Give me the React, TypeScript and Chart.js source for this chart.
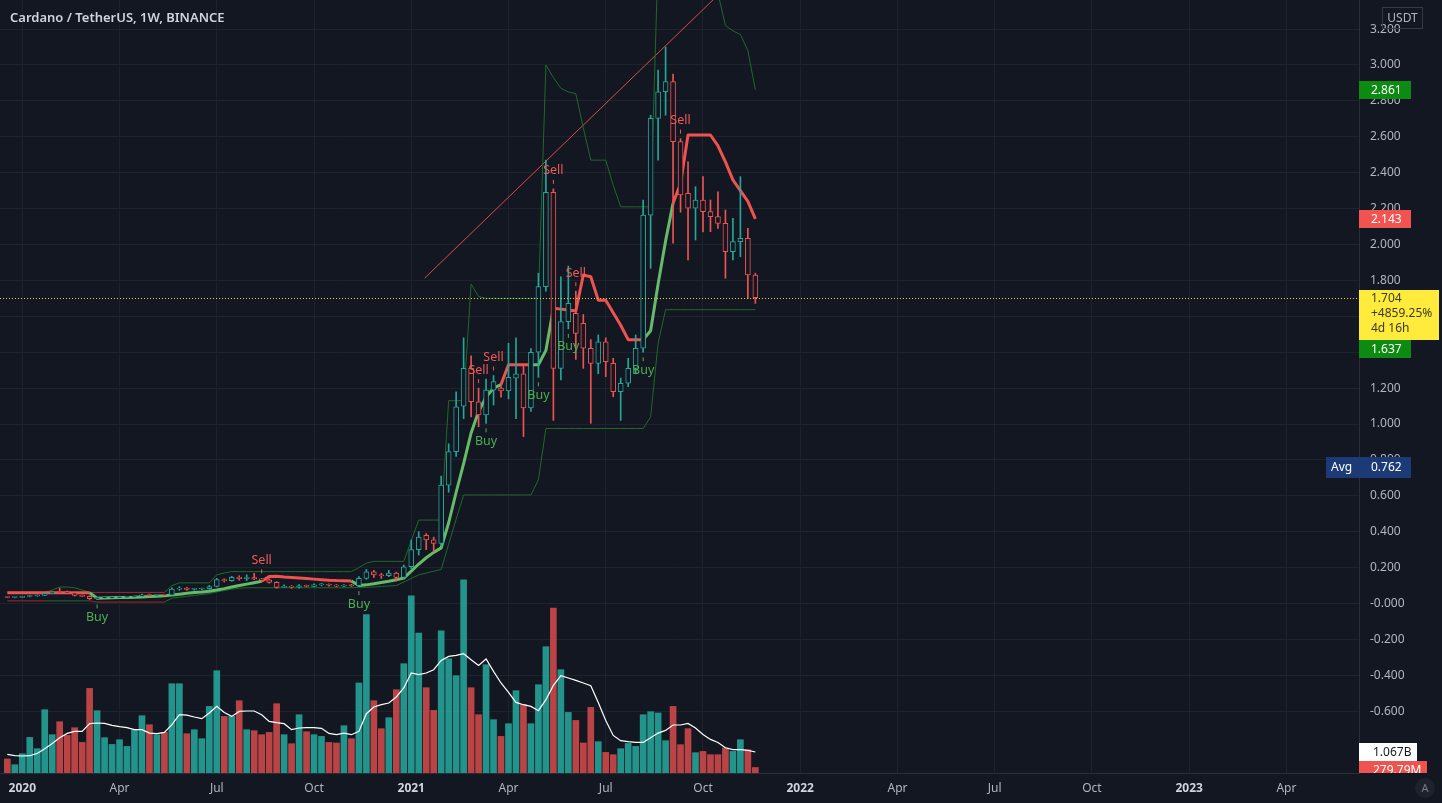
import React, { useEffect, useRef } from 'react';
import { Chart, registerables } from 'chart.js';

Chart.register(...registerables);

// ---------------- data ----------------
const TITLE = 'Cardano / TetherUS, 1W, BINANCE';
const CURRENCY = 'USDT';
// weekly bars, index = weeks after the bar of 2020-01-06
const FIRST_WEEK = -2;

const opens = [
  0.0345, 0.0335, 0.0345, 0.039, 0.042, 0.0455, 0.057, 0.0635, 0.0615, 0.06, 0.045, 0.04,
  0.027, 0.03, 0.0315, 0.033, 0.0345, 0.0365, 0.04, 0.049, 0.045, 0.047,
  0.046, 0.08, 0.086, 0.079, 0.081, 0.083, 0.095, 0.133, 0.128, 0.146,
  0.139, 0.145, 0.137, 0.132, 0.118, 0.09, 0.096, 0.091, 0.099, 0.096,
  0.104, 0.107, 0.102, 0.097, 0.103, 0.099, 0.14, 0.177, 0.16, 0.155,
  0.17, 0.145, 0.205, 0.3, 0.38, 0.355, 0.335, 0.66, 0.846, 1.1,
  1.31, 1.124, 1.05, 1.189, 1.2, 1.185, 1.255, 1.28, 1.09, 1.4,
  1.765, 2.29, 1.31, 1.57, 1.617, 1.561, 1.422, 1.338, 1.458, 1.338,
  1.18, 1.227, 1.31, 1.422, 2.164, 2.703, 2.851, 2.907, 2.573, 2.285,
  2.202, 2.248, 2.183, 2.155, 2.118, 1.96, 2.016, 2.035, 1.83,
];
const highs = [
  0.036, 0.0355, 0.041, 0.044, 0.048, 0.059, 0.066, 0.085, 0.07, 0.062, 0.047, 0.043,
  0.033, 0.034, 0.0345, 0.0365, 0.038, 0.042, 0.052, 0.053, 0.049, 0.052,
  0.088, 0.094, 0.09, 0.084, 0.086, 0.101, 0.14, 0.138, 0.152, 0.155,
  0.16, 0.168, 0.14, 0.136, 0.122, 0.104, 0.1, 0.105, 0.103, 0.11,
  0.112, 0.11, 0.106, 0.106, 0.107, 0.15, 0.19, 0.185, 0.168, 0.185,
  0.175, 0.215, 0.354, 0.4, 0.39, 0.37, 0.71, 0.89, 1.18, 1.48,
  1.38, 1.2, 1.25, 1.27, 1.22, 1.45, 1.48, 1.33, 1.42, 1.84,
  2.47, 2.31, 1.82, 1.88, 1.74, 1.61, 1.47, 1.496, 1.48, 1.366,
  1.256, 1.366, 1.496, 2.248, 2.72, 2.972, 3.1, 2.95, 2.59, 2.461,
  2.322, 2.378, 2.248, 2.294, 2.192, 2.146, 2.378, 2.09, 1.84,
];
const lows = [
  0.0325, 0.032, 0.033, 0.037, 0.04, 0.044, 0.055, 0.06, 0.058, 0.042, 0.038, 0.022,
  0.023, 0.028, 0.0295, 0.031, 0.033, 0.035, 0.039, 0.043, 0.041, 0.044,
  0.045, 0.074, 0.075, 0.074, 0.077, 0.08, 0.093, 0.12, 0.124, 0.13,
  0.128, 0.133, 0.124, 0.113, 0.085, 0.088, 0.085, 0.086, 0.093, 0.094,
  0.099, 0.097, 0.093, 0.094, 0.095, 0.097, 0.135, 0.145, 0.14, 0.15,
  0.125, 0.14, 0.19, 0.27, 0.3, 0.29, 0.32, 0.62, 0.82, 1.03,
  1.04, 0.985, 1.004, 1.106, 1.15, 1.14, 1.03, 0.93, 1.07, 1.26,
  1.74, 1.02, 1.245, 1.53, 1.36, 1.31, 1.004, 1.28, 1.264, 1.152,
  1.02, 1.208, 1.28, 1.4, 1.867, 2.47, 2.72, 2.007, 2.18, 1.914,
  2.025, 2.07, 2.071, 2.09, 1.812, 1.914, 1.932, 1.7, 1.672,
];
const closes = [
  0.0335, 0.0345, 0.039, 0.042, 0.0455, 0.057, 0.062, 0.0615, 0.06, 0.045, 0.04, 0.027,
  0.03, 0.0315, 0.033, 0.0345, 0.0365, 0.04, 0.049, 0.045, 0.047, 0.046,
  0.08, 0.086, 0.079, 0.081, 0.083, 0.095, 0.133, 0.128, 0.146, 0.139,
  0.145, 0.137, 0.132, 0.118, 0.09, 0.096, 0.091, 0.099, 0.096, 0.104,
  0.107, 0.102, 0.097, 0.103, 0.099, 0.14, 0.177, 0.16, 0.155, 0.17,
  0.145, 0.205, 0.3, 0.37, 0.355, 0.335, 0.66, 0.846, 1.096, 1.31,
  1.124, 1.05, 1.189, 1.236, 1.185, 1.26, 1.28, 1.09, 1.4, 1.765,
  2.29, 1.31, 1.57, 1.672, 1.505, 1.422, 1.338, 1.458, 1.347, 1.18,
  1.227, 1.31, 1.422, 2.164, 2.703, 2.851, 2.907, 2.573, 2.276, 2.202,
  2.248, 2.183, 2.155, 2.118, 1.96, 2.016, 2.035, 1.83, 1.704,
];
// volume in millions of ADA
const volumes = [
  711, 421, 980, 1807, 1234, 3213, 1944, 2604, 1909, 2299,
  1553, 4294, 3162, 1792, 1452, 1690, 1350, 2198, 2909, 2452,
  1944, 2061, 4533, 4533, 1995, 2198, 1741, 3381, 5193, 2873,
  2873, 3670, 2198, 2147, 1944, 2061, 3518, 1944, 1487, 2959,
  2096, 1944, 1858, 1553, 1523, 2401, 1741, 4569, 8036, 3670,
  2249, 2807, 4228, 5548, 9000, 7107, 4330, 3178, 7223, 5802,
  4939, 9812, 4330, 2959, 5497, 2706, 1858, 2503, 4178, 3467,
  2503, 4482, 6411, 8376, 5244, 3076, 2670, 1523, 3330, 1589,
  1046, 929, 1234, 1503, 1350, 2959, 3112, 3046, 1640, 3381,
  1437, 2249, 1030, 1096, 929, 929, 1269, 1096, 1690, 1183, 280,
];
const volumeMA = [
  944, 878, 863, 878, 995, 1234, 1503, 1792, 2010, 2112,
  2112, 2503, 2538, 2520, 2416, 2350, 2300, 2198, 2198, 2025,
  1995, 2061, 2452, 2959, 2940, 2843, 2756, 3046, 3381, 3076,
  2873, 3127, 3147, 3147, 2959, 2619, 2553, 2503, 2198, 2284,
  2300, 2300, 2270, 2010, 1944, 2025, 1944, 2112, 3010, 3350,
  3467, 3553, 3858, 4315, 5076, 4990, 5076, 5244, 5716, 5919,
  5970, 6056, 5751, 5462, 5787, 5157, 4569, 4091, 3584, 3467,
  3381, 3162, 3721, 4447, 4939, 4822, 4701, 4569, 4431, 3584,
  2670, 1909, 1640, 1589, 1553, 1553, 1792, 2025, 2162, 2437,
  2437, 2518, 2284, 1959, 1706, 1553, 1284, 1183, 1183, 1150, 1067,
];
const superTrend = [
  0.06, 0.06, 0.06, 0.06, 0.06, 0.06, 0.06, 0.06, 0.06, 0.06, 0.06, 0.06,
  0.03, 0.031, 0.032, 0.033, 0.034, 0.035, 0.037, 0.039, 0.041, 0.043,
  0.047, 0.052, 0.057, 0.061, 0.064, 0.068, 0.075, 0.083, 0.092, 0.1,
  0.108, 0.116, 0.124,
  0.15, 0.152, 0.148, 0.145, 0.142, 0.139, 0.136, 0.133, 0.13, 0.128, 0.127, 0.126,
  0.1, 0.104, 0.11, 0.117, 0.124, 0.132, 0.142, 0.18, 0.22, 0.255,
  0.285, 0.31, 0.45, 0.62, 0.78, 0.95, 1.07, 1.15, 1.2, 1.22,
  1.33, 1.33, 1.33, 1.33, 1.33, 1.41, 1.645,
  1.64, 1.635, 1.63, 1.83, 1.82, 1.69, 1.69, 1.62, 1.55, 1.47, 1.47, 1.47,
  1.52, 1.78, 2.02, 2.23,
  2.34, 2.61, 2.61, 2.61, 2.61, 2.55, 2.46, 2.36, 2.3, 2.24, 2.143,
];
const trendStartsUp = false;
const trendFlipWeeks = [10, 33, 45, 65, 69, 72, 84, 88];
const upperBand = [
  0.062, 0.062, 0.062, 0.062, 0.062, 0.062,
  0.075, 0.092, 0.092, 0.088, 0.075, 0.062,
  0.062, 0.062, 0.062, 0.062, 0.062, 0.062, 0.062, 0.062, 0.062, 0.062,
  0.1, 0.115, 0.115, 0.115, 0.115, 0.115,
  0.16, 0.17, 0.178, 0.178, 0.178, 0.178, 0.178, 0.178, 0.178, 0.178, 0.178,
  0.178, 0.178, 0.178, 0.178, 0.178, 0.178, 0.178, 0.178,
  0.2, 0.225, 0.235, 0.235, 0.235, 0.235, 0.235, 0.35, 0.465, 0.465, 0.465, 0.465,
  1.13, 1.13, 1.13, 1.78, 1.71, 1.7, 1.7, 1.7, 1.7, 1.7, 1.7, 1.7, 1.7,
  3.0, 2.93, 2.87, 2.85, 2.84, 2.65, 2.47, 2.47, 2.47, 2.33, 2.21, 2.21, 2.21, 2.21, 2.21,
  3.6, 3.6, 3.6, 3.6, 3.6, 3.6, 3.6, 3.6, 3.4, 3.22, 3.19, 3.17, 3.08, 2.861,
];
const lowerBand = [
  0.015, 0.015, 0.015, 0.015, 0.015, 0.015, 0.015, 0.015, 0.015, 0.015, 0.015, 0.015,
  0.008, 0.008, 0.008, 0.008, 0.008, 0.008, 0.008, 0.008, 0.008, 0.008,
  0.03, 0.035, 0.04, 0.045, 0.05, 0.055,
  0.065, 0.072, 0.08, 0.085, 0.088, 0.088,
  0.088, 0.088, 0.088, 0.088, 0.088, 0.088, 0.088, 0.088, 0.088, 0.088, 0.088, 0.088, 0.088,
  0.09, 0.09, 0.092, 0.095, 0.098,
  0.1, 0.12, 0.14, 0.16, 0.17, 0.18, 0.19, 0.33, 0.47,
  0.605, 0.605, 0.605, 0.605, 0.605, 0.605, 0.605, 0.605, 0.605, 0.605,
  0.69,
  0.975, 0.975, 0.975, 0.975, 0.975, 0.975, 0.975, 0.975, 0.975, 0.975, 0.975, 0.975, 0.975, 0.975,
  1.04, 1.45,
  1.637, 1.637, 1.637, 1.637, 1.637, 1.637, 1.637, 1.637, 1.637, 1.637, 1.637, 1.637, 1.637,
];
const bandRedRanges = [[-2, 3], [10, 19]];
const buyWeeks = [10, 45, 62, 69, 73, 83];
const sellWeeks = [32, 61, 63, 71, 74, 88];
const trendLineWeeks = [53.8, 93.5];
const trendLinePrices = [1.813, 3.409];

const timeTickWeeks = [0, 13, 26, 39, 52, 65, 78, 91, 104, 117, 130, 143, 156, 169];
const timeTickLabels = ['2020', 'Apr', 'Jul', 'Oct', '2021', 'Apr', 'Jul', 'Oct', '2022', 'Apr', 'Jul', 'Oct', '2023', 'Apr'];
const priceTicks = [3.2, 3.0, 2.8, 2.6, 2.4, 2.2, 2.0, 1.8, 1.6, 1.4, 1.2, 1.0, 0.8, 0.6, 0.4, 0.2, 0, -0.2, -0.4, -0.6];
const priceTickLabels = ['3.200', '3.000', '2.800', '2.600', '2.400', '2.200', '2.000', '1.800', '1.600', '1.400', '1.200', '1.000', '0.800', '0.600', '0.400', '0.200', '-0.000', '-0.200', '-0.400', '-0.600'];

const lastPrice = 1.704;
const lastPriceLabel = '1.704';
const lastChangeLabel = '+4859.25%';
const countdownLabel = '4d 16h';
const upperBandLabel = '2.861';
const superTrendLabel = '2.143';
const lowerBandLabel = '1.637';
const avgPrice = 0.762;
const avgLabel = '0.762';
const volumeMALabel = '1.067B';
const lastVolumeLabel = '279.79M';

// view range
const X_MIN = -2.98;
const X_MAX = 178.7;
const Y_MAX = 3.362;
const Y_MIN = -0.944;
const VOL_MAX = 39240;

// ---------------- style ----------------
const BG = '#131722';
const GRID = '#1e222d';
const AXIS_LINE = '#2a2e39';
const TEXT = '#b2b5be';
const UP = '#26a69a';
const DOWN = '#ef5350';
const ST_UP = 'rgb(102,187,106)';
const ST_DOWN = 'rgb(239,83,80)';
const BAND_GREEN = '#1f6a29';
const BAND_RED = '#a3282a';
const FONT = "'Noto Sans', 'DejaVu Sans', sans-serif";

export default function App() {
  const ref = useRef<HTMLCanvasElement>(null);

  useEffect(() => {
    document.body.style.margin = '0';
    document.body.style.background = BG;
    const canvas = ref.current;
    if (!canvas) return;

    const weeks = opens.map((_, i) => FIRST_WEEK + i);
    const isUp = closes.map((c, i) => c >= opens[i]);
    const candleColor = isUp.map((u) => (u ? UP : DOWN));
    const volColor = isUp.map((u) => (u ? 'rgba(38,166,154,0.88)' : 'rgba(239,83,80,0.76)'));
    const trendUpAt = (week: number) => {
      let up = trendStartsUp;
      for (const w of trendFlipWeeks) if (week >= w) up = !up;
      return up;
    };
    const bandIsRed = (week: number) => bandRedRanges.some(([a, b]) => week >= a && week <= b);

    const overlay = {
      id: 'overlay',
      afterDatasetsDraw(chart: any) {
        const ctx = chart.ctx;
        const xs = chart.scales.x;
        const ys = chart.scales.y;
        const area = chart.chartArea;
        ctx.save();
        // last price dotted line
        const py = Math.round(ys.getPixelForValue(lastPrice)) + 0.5;
        ctx.strokeStyle = '#e9d84a';
        ctx.lineWidth = 1;
        ctx.setLineDash([1, 2]);
        ctx.beginPath();
        ctx.moveTo(area.left, py);
        ctx.lineTo(area.right, py);
        ctx.stroke();
        ctx.setLineDash([]);
        // signals
        ctx.font = `12.5px ${FONT}`;
        ctx.textAlign = 'center';
        ctx.textBaseline = 'middle';
        for (const w of buyWeeks) {
          const i = w - FIRST_WEEK;
          const x = xs.getPixelForValue(w);
          const y = ys.getPixelForValue(lows[i]);
          ctx.strokeStyle = '#4caf50';
          ctx.fillStyle = '#4caf50';
          ctx.beginPath();
          ctx.moveTo(x, y + 5);
          ctx.lineTo(x, y + 9);
          ctx.stroke();
          ctx.fillText('Buy', x, y + 18);
        }
        for (const w of sellWeeks) {
          const i = w - FIRST_WEEK;
          const x = xs.getPixelForValue(w);
          const y = ys.getPixelForValue(highs[i]);
          ctx.strokeStyle = '#f05a56';
          ctx.fillStyle = '#f05a56';
          ctx.beginPath();
          ctx.moveTo(x, y - 9);
          ctx.lineTo(x, y - 5);
          ctx.stroke();
          ctx.fillText('Sell', x, y - 18);
        }
        ctx.restore();
      },
      afterDraw(chart: any) {
        const ctx = chart.ctx;
        const ys = chart.scales.y;
        const yv = chart.scales.yv;
        const area = chart.chartArea;
        const axX = area.right;
        ctx.save();
        ctx.textBaseline = 'middle';
        ctx.textAlign = 'left';
        ctx.font = `12px ${FONT}`;
        const tag = (value: number, label: string, bg: string, fg: string, w = 52) => {
          const y = ys.getPixelForValue(value);
          ctx.fillStyle = bg;
          ctx.fillRect(axX, Math.round(y) - 9, w, 18);
          ctx.fillStyle = fg;
          ctx.fillText(label, axX + 12, y + 0.5);
          return Math.round(y) + 9;
        };
        tag(2.861, upperBandLabel, '#0c8a12', '#ffffff');
        tag(2.143, superTrendLabel, '#f05350', '#ffffff');
        // current price box
        const pY = Math.round(ys.getPixelForValue(lastPrice));
        ctx.fillStyle = '#ffeb3b';
        ctx.fillRect(axX, pY - 8, 80, 50);
        ctx.fillStyle = '#3a3a22';
        ctx.fillText(lastPriceLabel, axX + 12, pY + 1);
        ctx.fillText(lastChangeLabel, axX + 12, pY + 16);
        ctx.fillText(countdownLabel, axX + 12, pY + 31);
        const yellowBottom = pY + 42;
        // lower band box pushed below yellow box
        const lbY = Math.max(Math.round(ys.getPixelForValue(1.637)) - 9, yellowBottom);
        ctx.fillStyle = '#0c8a12';
        ctx.fillRect(axX, lbY, 52, 18);
        ctx.fillStyle = '#ffffff';
        ctx.fillText(lowerBandLabel, axX + 12, lbY + 9.5);
        // avg box
        const aY = Math.round(ys.getPixelForValue(avgPrice));
        ctx.fillStyle = '#1c3b76';
        ctx.fillRect(axX - 33, aY - 10, 85, 21);
        ctx.fillStyle = '#ffffff';
        ctx.fillText('Avg', axX - 28, aY + 0.5);
        ctx.fillText(avgLabel, axX + 12, aY + 0.5);
        // volume boxes
        const maY = Math.round(yv.getPixelForValue(volumeMA[volumeMA.length - 1]));
        ctx.fillStyle = '#ffffff';
        ctx.fillRect(axX, maY - 9, 58, 18);
        ctx.fillStyle = '#131722';
        ctx.fillText(volumeMALabel, axX + 14, maY + 0.5);
        ctx.save();
        ctx.beginPath();
        ctx.rect(axX, 0, 83, area.bottom);
        ctx.clip();
        const vY = Math.max(Math.round(yv.getPixelForValue(volumes[volumes.length - 1])) - 9, maY + 9);
        ctx.fillStyle = '#ef5350';
        ctx.fillRect(axX, vY, 68, 18);
        ctx.fillStyle = '#ffffff';
        ctx.fillText(lastVolumeLabel, axX + 14, vY + 9.5);
        ctx.restore();
        // currency box
        ctx.strokeStyle = '#363a45';
        ctx.lineWidth = 1;
        ctx.strokeRect(1382.5, 7.5, 40, 21);
        ctx.fillStyle = TEXT;
        ctx.textAlign = 'center';
        ctx.fillText(CURRENCY, 1402.5, 18.5);
        // auto-scale button
        ctx.fillStyle = '#1e222d';
        ctx.beginPath();
        ctx.arc(1425, 788, 10, 0, Math.PI * 2);
        ctx.fill();
        ctx.fillStyle = '#787b86';
        ctx.font = `11px ${FONT}`;
        ctx.fillText('A', 1425, 788.5);
        // title
        ctx.textAlign = 'left';
        ctx.fillStyle = '#d1d4dc';
        ctx.font = `600 13px ${FONT}`;
        ctx.fillText(TITLE, 10, 18.5);
        ctx.restore();
      },
    };

    const chart = new Chart(canvas, {
      type: 'bar',
      data: {
        datasets: [
          {
            type: 'bar',
            label: 'bodies',
            order: 1,
            data: weeks.map((w, i) => ({ x: w, y: [opens[i], closes[i]] })) as any,
            backgroundColor: BG,
            borderColor: candleColor,
            borderWidth: 1,
            borderSkipped: false,
            barThickness: 5,
            minBarLength: 1,
            grouped: false,
            yAxisID: 'y',
          } as any,
          {
            type: 'bar',
            label: 'wicks',
            order: 2,
            data: weeks.map((w, i) => ({ x: w, y: [lows[i], highs[i]] })) as any,
            backgroundColor: candleColor,
            borderWidth: 0,
            barThickness: 1,
            grouped: false,
            yAxisID: 'y',
          } as any,
          {
            type: 'line',
            label: 'supertrend',
            order: 3,
            data: weeks.map((w, i) => ({ x: w, y: superTrend[i] })),
            borderColor: ST_UP,
            borderWidth: 3,
            pointRadius: 0,
            tension: 0,
            borderJoinStyle: 'round',
            segment: {
              borderColor: (c: any) => (trendUpAt(FIRST_WEEK + c.p1DataIndex) ? ST_UP : ST_DOWN),
            },
            yAxisID: 'y',
          } as any,
          {
            type: 'line',
            label: 'upper',
            order: 4,
            data: weeks.map((w, i) => ({ x: w, y: upperBand[i] })),
            borderColor: BAND_GREEN,
            borderWidth: 1,
            pointRadius: 0,
            segment: { borderColor: (c: any) => (bandIsRed(FIRST_WEEK + c.p1DataIndex) ? BAND_RED : BAND_GREEN) },
            yAxisID: 'y',
          } as any,
          {
            type: 'line',
            label: 'lower',
            order: 4,
            data: weeks.map((w, i) => ({ x: w, y: lowerBand[i] })),
            borderColor: BAND_GREEN,
            borderWidth: 1,
            pointRadius: 0,
            segment: { borderColor: (c: any) => (bandIsRed(FIRST_WEEK + c.p1DataIndex) ? BAND_RED : BAND_GREEN) },
            yAxisID: 'y',
          } as any,
          {
            type: 'line',
            label: 'trendline',
            order: 4,
            data: trendLineWeeks.map((w, i) => ({ x: w, y: trendLinePrices[i] })),
            borderColor: '#e04a48',
            borderWidth: 1,
            pointRadius: 0,
            yAxisID: 'y',
          } as any,
          {
            type: 'line',
            label: 'volume MA',
            order: 5,
            data: weeks.map((w, i) => ({ x: w, y: volumeMA[i] })),
            borderColor: '#ffffff',
            borderWidth: 1.2,
            pointRadius: 0,
            yAxisID: 'yv',
          } as any,
          {
            type: 'bar',
            label: 'volume',
            order: 6,
            data: weeks.map((w, i) => ({ x: w, y: volumes[i] })),
            backgroundColor: volColor,
            borderWidth: 0,
            barThickness: 6,
            grouped: false,
            yAxisID: 'yv',
          } as any,
        ],
      },
      options: {
        responsive: false,
        animation: false,
        devicePixelRatio: 1,
        layout: { padding: 0 },
        plugins: { legend: { display: false }, tooltip: { enabled: false } },
        scales: {
          x: {
            type: 'linear',
            min: X_MIN,
            max: X_MAX,
            offset: false,
            position: 'bottom',
            grid: { color: GRID, drawTicks: false, offset: false },
            border: { color: AXIS_LINE },
            afterBuildTicks: (s: any) => {
              s.ticks = timeTickWeeks.map((v) => ({ value: v }));
            },
            afterFit: (s: any) => {
              s.height = 30;
              s.paddingLeft = 0;
              s.paddingRight = 0;
            },
            ticks: {
              padding: 8,
              maxRotation: 0,
              autoSkip: false,
              callback: (_v: any, i: number) => timeTickLabels[i],
              color: (c: any) => (/^\d{4}$/.test(timeTickLabels[c.index] || '') ? '#d1d4dc' : TEXT),
              font: (c: any) => ({
                family: FONT,
                size: 12,
                weight: /^\d{4}$/.test(timeTickLabels[c.index] || '') ? 'bold' : 'normal',
              }),
            },
          },
          y: {
            type: 'linear',
            position: 'right',
            min: Y_MIN,
            max: Y_MAX,
            grid: { color: GRID, drawTicks: false },
            border: { color: AXIS_LINE },
            afterBuildTicks: (s: any) => {
              s.ticks = priceTicks.map((v) => ({ value: v }));
            },
            afterFit: (s: any) => {
              s.width = 83;
              s.paddingTop = 0;
              s.paddingBottom = 0;
            },
            ticks: {
              padding: 11,
              autoSkip: false,
              color: TEXT,
              font: { family: FONT, size: 12 },
              callback: (_v: any, i: number) => priceTickLabels[i],
            },
          },
          yv: {
            type: 'linear',
            display: false,
            min: 0,
            max: VOL_MAX,
          },
        },
      } as any,
      plugins: [overlay],
    });

    return () => chart.destroy();
  }, []);

  return (
    <div style={{ width: 1442, height: 803, position: 'relative', background: BG }}>
      <canvas ref={ref} width={1442} height={803} style={{ display: 'block', width: 1442, height: 803 }} />
    </div>
  );
}
